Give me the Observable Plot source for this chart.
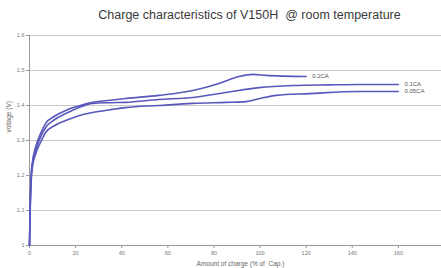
<!DOCTYPE html>
<html>
<head>
<meta charset="utf-8">
<script src="https://cdn.jsdelivr.net/npm/d3@7"></script>
<script src="https://cdn.jsdelivr.net/npm/@observablehq/plot@0.6"></script>
<style>
  body { margin: 0; background: #fff; font-family: "Liberation Sans", Arial, sans-serif; }
  #title { height: 25px; line-height: 30px; text-align: center; font-size: 12.5px; color: #3a3a3a; padding-left: 58px; box-sizing: border-box; width: 441px; white-space: pre; }
</style>
</head>
<body>
<div id="title">Charge characteristics of V150H  @ room temperature</div>
<div id="chart"></div>
<script>
const seriesNames = ["0.2CA", "0.1CA", "0.05CA"];

const x02 = [0, 0.3, 0.7, 1.3, 2.6, 4.8, 7, 11, 15.7, 21, 27.4, 35, 41.7, 56, 70.9, 82.2, 90.9, 97, 102.6, 110, 120];
const v02 = [1.0, 1.12, 1.2, 1.24, 1.28, 1.32, 1.349, 1.37, 1.386, 1.398, 1.409, 1.415, 1.42, 1.429, 1.443, 1.463, 1.483, 1.489, 1.486, 1.484, 1.483];

const x01 = [0, 0.3, 0.7, 1.3, 2.6, 4.8, 7, 11, 15.7, 21, 27.4, 35, 41.7, 56, 70.9, 85.2, 99.6, 114.3, 130, 143, 160];
const v01 = [1.0, 1.11, 1.19, 1.235, 1.27, 1.31, 1.337, 1.36, 1.377, 1.393, 1.406, 1.408, 1.409, 1.417, 1.423, 1.437, 1.451, 1.457, 1.459, 1.46, 1.46];

const x005 = [0, 0.3, 0.7, 1.3, 2.6, 4.8, 7, 11, 15.7, 21, 27.4, 35, 41.7, 56, 70.9, 85.2, 93.9, 100, 107, 121.3, 143, 160];
const v005 = [1.0, 1.1, 1.18, 1.225, 1.26, 1.295, 1.323, 1.343, 1.357, 1.37, 1.38, 1.388, 1.394, 1.4, 1.406, 1.409, 1.411, 1.42, 1.429, 1.434, 1.44, 1.44];

const xTicks = [0, 20, 40, 60, 80, 100, 120, 140, 160];
const yTicks = [1, 1.1, 1.2, 1.3, 1.4, 1.5, 1.6];
const yTickLabels = ["1", "1.1", "1.2", "1.3", "1.4", "1.5", "1.6"];

const xs = [x02, x01, x005];
const vs = [v02, v01, v005];
const data = [];
seriesNames.forEach((name, i) => {
  xs[i].forEach((x, j) => data.push({series: name, x, v: vs[i][j]}));
});
const ends = seriesNames.map((name, i) => ({series: name, x: xs[i][xs[i].length - 1], v: vs[i][vs[i].length - 1]}));

const lineColor = "#5858bc";
const yFmt = d => yTickLabels[yTicks.findIndex(t => Math.abs(t - d) < 1e-9)];

const chart = Plot.plot({
  width: 441,
  height: 243,
  marginLeft: 29,
  marginRight: 0,
  marginTop: 10,
  marginBottom: 23,
  style: {fontFamily: "Liberation Sans, Arial, sans-serif", fontSize: "6px", color: "#666", background: "#fff"},
  x: {domain: [0, 178.7], label: null},
  y: {domain: [1, 1.6], label: null},
  marks: [
    Plot.gridY(yTicks, {stroke: "#c8c8c8", strokeOpacity: 1, strokeWidth: 1}),
    Plot.ruleY([1], {stroke: "#999"}),
    Plot.ruleX([0], {stroke: "#999"}),
    Plot.axisX({ticks: xTicks, tickSize: 3, tickPadding: 3, stroke: "#999", fill: "#777", fontSize: 5.5, label: null}),
    Plot.axisY({ticks: yTicks, tickSize: 3, tickPadding: 2, stroke: "#999", fill: "#777", fontSize: 5.5, label: null, tickFormat: yFmt}),
    Plot.line(data, {x: "x", y: "v", z: "series", stroke: lineColor, strokeWidth: 1.6, curve: "monotone-x"}),
    Plot.text(ends, {x: "x", y: "v", text: "series", textAnchor: "start", dx: 6, fill: "#555", fontSize: 6}),
    Plot.text(["Amount of charge (% of  Cap.)"], {frameAnchor: "bottom", dy: 20, dx: 5, fill: "#666", fontSize: 6.5}),
    Plot.text(["voltage (V)"], {frameAnchor: "left", dx: -21, dy: -8, rotate: -90, fill: "#666", fontSize: 6.5})
  ]
});
document.getElementById("chart").appendChild(chart);
</script>
</body>
</html>
